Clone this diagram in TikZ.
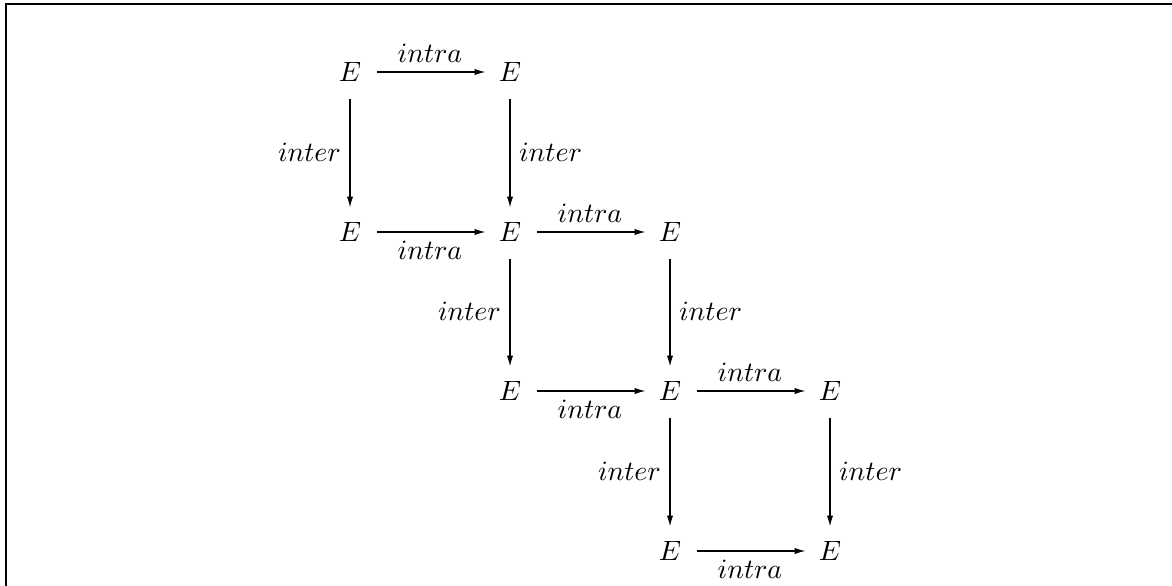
\documentclass[tikz,border=0pt]{standalone}
\usetikzlibrary{arrows.meta}
\begin{document}
\begin{tikzpicture}[x=0.3922pt,y=-0.3922pt,
  enode/.style={inner sep=0pt, minimum width=18.8pt, minimum height=18.8pt, font=\fontsize{10.5}{12}\selectfont},
  arr/.style={line width=0.55pt, shorten <=1pt, -{Latex[length=4.3pt,width=2.5pt]}},
  lbl/.style={inner sep=3.3pt, font=\fontsize{10.5}{12}\selectfont}]
\useasboundingbox (0,0) rectangle (1172,586);
\draw[line width=1.1pt] (6,586) -- (6,4) -- (1172,4);
% nodes
\node[enode] (a1) at (350,72) {$E$};
\node[enode] (a2) at (510,72) {$E$};
\node[enode] (b1) at (350,232) {$E$};
\node[enode] (b2) at (510,232) {$E$};
\node[enode] (b3) at (670,232) {$E$};
\node[enode] (c2) at (510,391) {$E$};
\node[enode] (c3) at (670,391) {$E$};
\node[enode] (c4) at (830,391) {$E$};
\node[enode] (d3) at (670,551) {$E$};
\node[enode] (d4) at (830,551) {$E$};
% intra arrows
\draw[arr] (a1) -- node[lbl,above] {$intra$} (a2);
\draw[arr] (b1) -- node[lbl,below] {$intra$} (b2);
\draw[arr] (b2) -- node[lbl,above] {$intra$} (b3);
\draw[arr] (c2) -- node[lbl,below] {$intra$} (c3);
\draw[arr] (c3) -- node[lbl,above] {$intra$} (c4);
\draw[arr] (d3) -- node[lbl,below] {$intra$} (d4);
% inter arrows
\draw[arr] (a1) -- node[lbl,left] {$inter$} (b1);
\draw[arr] (a2) -- node[lbl,right] {$inter$} (b2);
\draw[arr] (b2) -- node[lbl,left] {$inter$} (c2);
\draw[arr] (b3) -- node[lbl,right] {$inter$} (c3);
\draw[arr] (c3) -- node[lbl,left] {$inter$} (d3);
\draw[arr] (c4) -- node[lbl,right] {$inter$} (d4);
\end{tikzpicture}
\end{document}
